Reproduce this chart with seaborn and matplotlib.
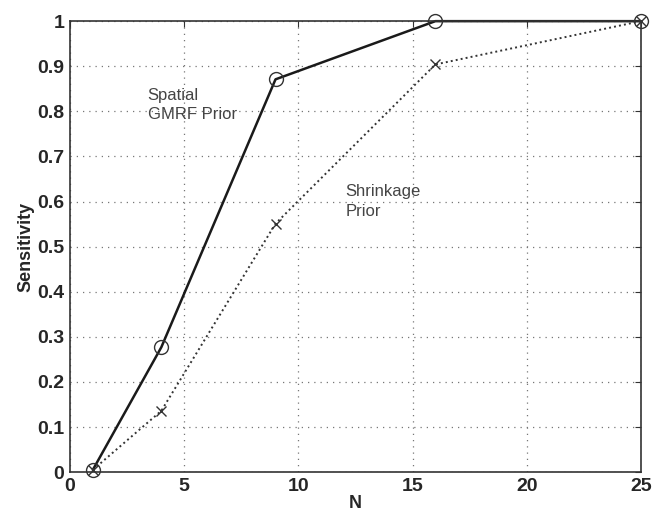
import matplotlib
matplotlib.use("Agg")
import matplotlib.pyplot as plt
import seaborn as sns
import pandas as pd

N = [1, 4, 9, 16, 25]
gmrf = [0.005, 0.277, 0.871, 1.0, 1.0]
shrink = [0.005, 0.136, 0.551, 0.904, 1.0]
xticks = [0, 5, 10, 15, 20, 25]
yticks = [0, 0.1, 0.2, 0.3, 0.4, 0.5, 0.6, 0.7, 0.8, 0.9, 1]
ytick_labels = ["0", "0.1", "0.2", "0.3", "0.4", "0.5", "0.6", "0.7", "0.8", "0.9", "1"]

sns.set_style("white")
plt.rcParams['font.family'] = ['Liberation Sans', 'DejaVu Sans']

fig = plt.figure(figsize=(6.54, 5.16), dpi=100)
ax = fig.add_axes([0.107, 0.085, 0.873, 0.874])

df1 = pd.DataFrame({"N": N, "S": gmrf})
df2 = pd.DataFrame({"N": N, "S": shrink})
sns.lineplot(data=df1, x="N", y="S", ax=ax, color="#1a1a1a", lw=1.8,
             marker="o", markersize=10, markerfacecolor="none",
             markeredgecolor="#333333", markeredgewidth=1.0, clip_on=False)
sns.lineplot(data=df2, x="N", y="S", ax=ax, color="#333333", lw=1.4,
             linestyle=(0, (1, 1.6)), marker="x", markersize=7,
             markeredgecolor="#333333", markeredgewidth=1.0, clip_on=False)

ax.set_xlim(0, 25)
ax.set_ylim(0, 1)
ax.set_xticks(xticks)
ax.set_yticks(yticks)
ax.set_yticklabels(ytick_labels)
ax.grid(True, color="#777777", linestyle=(0, (1, 4)), lw=0.9)
for s in ax.spines.values():
    s.set_color("#333333")
    s.set_linewidth(1.2)
ax.tick_params(axis="both", direction="in", length=4, labelsize=14, pad=4,
               color="#333333", top=True, right=True)
for lab in ax.get_xticklabels() + ax.get_yticklabels():
    lab.set_fontweight("bold")
ax.set_xlabel("N", fontsize=13, fontweight="bold", labelpad=0)
ax.set_ylabel("Sensitivity", fontsize=13, fontweight="bold", labelpad=2)

ax.text(3.4, 0.814, "Spatial\nGMRF Prior", fontsize=12, color="#444444",
        va="center", ha="left", linespacing=1.35)
ax.text(12.05, 0.60, "Shrinkage\nPrior", fontsize=12, color="#444444",
        va="center", ha="left", linespacing=1.35)

fig.savefig("out.png", dpi=100)
